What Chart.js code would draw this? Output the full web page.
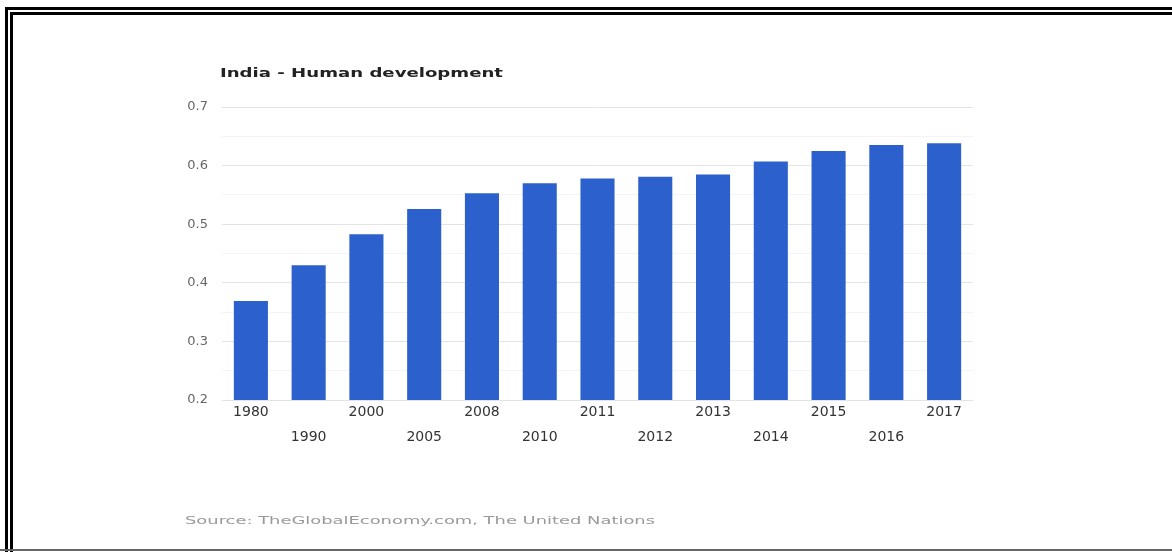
<!DOCTYPE html>
<html>
<head>
<meta charset="utf-8">
<script src="https://cdn.jsdelivr.net/npm/chart.js@4/dist/chart.umd.min.js"></script>
<style>
  html, body { margin: 0; padding: 0; background: #fff; }
  #wrap { position: relative; width: 1172px; height: 552px; overflow: hidden; }
  #frame {
    position: absolute; left: 5px; top: 7px; width: 1300px; height: 560px;
    border: 8px double #000; box-sizing: border-box;
  }
  #bottomline { position: absolute; left: 0; top: 549px; width: 1172px; height: 2px; background: #666; }
  #chart { position: absolute; left: 0; top: 0; }
</style>
</head>
<body>
<div id="wrap">
  <div id="frame"></div>
  <div id="bottomline"></div>
  <canvas id="chart" width="1172" height="552"></canvas>
</div>
<script>
// データ
const years = ['1980', '1990', '2000', '2005', '2008', '2010', '2011', '2012', '2013', '2014', '2015', '2016', '2017'];
const hdiValues = [0.369, 0.430, 0.483, 0.526, 0.553, 0.570, 0.578, 0.581, 0.585, 0.607, 0.625, 0.635, 0.638];
const yMin = 0.2;
const yMax = 0.7;
const titleText = 'India - Human development';
const sourceText = 'Source: TheGlobalEconomy.com, The United Nations';

// テキストを横に伸ばして描く
function drawStretched(ctx, text, x, y, width, font, color) {
  ctx.save();
  ctx.font = font;
  ctx.fillStyle = color;
  ctx.textBaseline = 'middle';
  ctx.textAlign = 'left';
  const w = ctx.measureText(text).width;
  ctx.translate(x, y);
  ctx.scale(width / w, 1);
  ctx.fillText(text, 0, 0);
  ctx.restore();
}

// タイトルと出典
const textPlugin = {
  id: 'textPlugin',
  afterDraw(chart) {
    const ctx = chart.ctx;
    const area = chart.chartArea;
    drawStretched(ctx, titleText, area.left - 2, 74, 283, 'bold 13px "DejaVu Sans"', '#222');
    drawStretched(ctx, sourceText, 185, 521, 470, '11px "DejaVu Sans"', '#9a9a9a');
  }
};

new Chart(document.getElementById('chart'), {
  type: 'bar',
  data: {
    labels: years,
    datasets: [{
      data: hdiValues,
      backgroundColor: '#2c60cd',
      borderWidth: 0,
      barPercentage: 0.59,
      categoryPercentage: 1.0
    }]
  },
  options: {
    responsive: false,
    animation: false,
    events: [],
    layout: { padding: { left: 182, right: 199, top: 107, bottom: 0 } },
    plugins: {
      legend: { display: false },
      title: { display: false },
      tooltip: { enabled: false }
    },
    scales: {
      x: {
        grid: { display: false, drawTicks: false },
        border: { display: false },
        ticks: {
          autoSkip: false,
          maxRotation: 0,
          minRotation: 0,
          padding: 0,
          color: '#333',
          font: { family: 'DejaVu Sans', size: 14, lineHeight: 1.8 },
          // 交互に2段で表示
          callback: function(value, index) {
            const label = this.getLabelForValue(value);
            return index % 2 === 0 ? [label] : ['', label];
          }
        },
        afterFit(scale) { scale.height = 152; }
      },
      y: {
        min: yMin,
        max: yMax,
        grid: {
          drawTicks: false,
          color: function(ctx) {
            const v = Math.round(ctx.tick.value * 100);
            return v % 10 === 0 ? '#e4e4e4' : '#f4f4f4';
          }
        },
        border: { display: false },
        ticks: {
          stepSize: 0.05,
          padding: 14,
          color: '#666',
          font: { family: 'DejaVu Sans', size: 13 },
          callback: function(value) {
            const v = Math.round(value * 100);
            return v % 10 === 0 ? (v / 100).toFixed(1) : '';
          }
        },
        afterFit(scale) { scale.width = 40; }
      }
    }
  },
  plugins: [textPlugin]
});
</script>
</body>
</html>
